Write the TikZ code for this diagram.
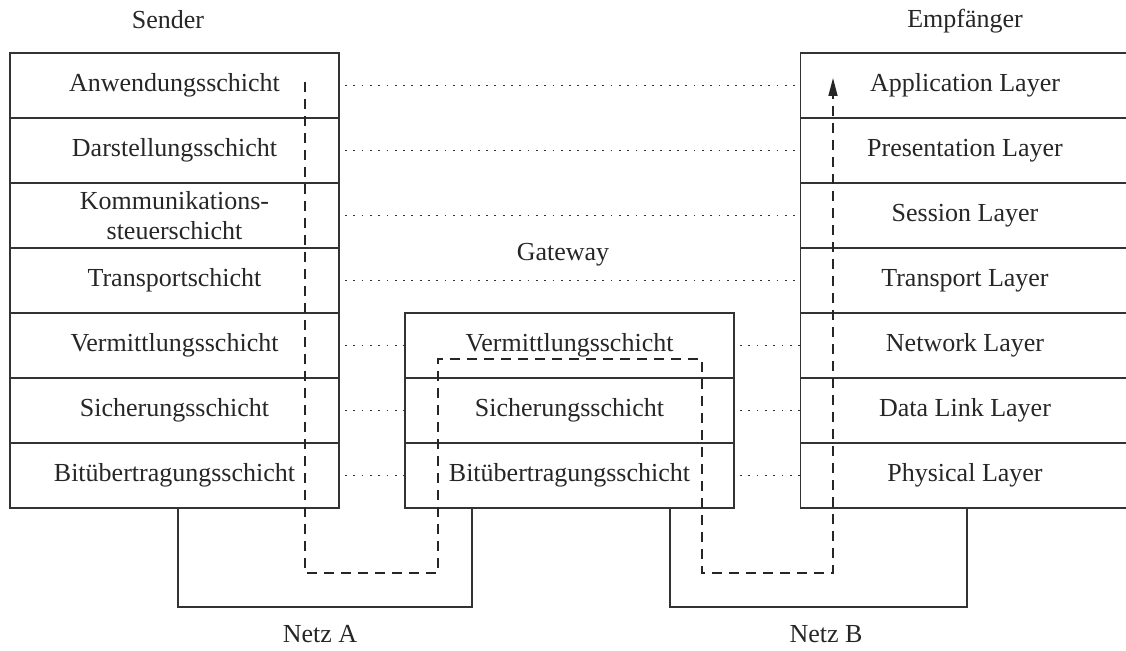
\documentclass[tikz,border=0pt]{standalone}
\usepackage{fontspec}
\setmainfont{Liberation Serif}
\usetikzlibrary{arrows.meta}
\begin{document}
\begin{tikzpicture}[x=0.5pt,y=-0.5pt,
  txt/.style={font=\fontsize{13}{15}\selectfont, text=black!85, inner sep=0pt},
  layer/.style={draw=black!80, line width=0.9pt, minimum width=164.5pt, minimum height=32.5pt,
    inner sep=0pt, outer sep=0pt, align=center, font=\fontsize{13}{15}\selectfont, text=black!85},
  peer/.style={draw=black!80, line width=0.9pt, dash pattern=on 0.9pt off 3.25pt, shorten <=3pt},
  net/.style={draw=black!80, line width=0.9pt},
  flow/.style={draw=black!85, line width=0.8pt, dash pattern=on 5pt off 3.5pt}]
\useasboundingbox (0,0) rectangle (1126,651);
\clip (0,0) rectangle (1126,651);
% sender stack
\node[layer] (L1) at (174.5,85.5) {Anwendungsschicht};
\node[layer] (L2) at (174.5,150.5) {Darstellungsschicht};
\node[layer] (L3) at (174.5,215.5) {Kommunikations-\\steuerschicht};
\node[layer] (L4) at (174.5,280.5) {Transportschicht};
\node[layer] (L5) at (174.5,345.5) {Vermittlungsschicht};
\node[layer] (L6) at (174.5,410.5) {Sicherungsschicht};
\node[layer] (L7) at (174.5,475.5) {Bitübertragungsschicht};
% gateway stack
\node[layer] (G1) at (569.5,345.5) {Vermittlungsschicht};
\node[layer] (G2) at (569.5,410.5) {Sicherungsschicht};
\node[layer] (G3) at (569.5,475.5) {Bitübertragungsschicht};
% receiver stack
\node[layer] (R1) at (965,85.5) {Application Layer};
\node[layer] (R2) at (965,150.5) {Presentation Layer};
\node[layer] (R3) at (965,215.5) {Session Layer};
\node[layer] (R4) at (965,280.5) {Transport Layer};
\node[layer] (R5) at (965,345.5) {Network Layer};
\node[layer] (R6) at (965,410.5) {Data Link Layer};
\node[layer] (R7) at (965,475.5) {Physical Layer};
% labels
\node[txt] (sender) at (168,20) {Sender};
\node[txt] (empf) at (965,21) {Empfänger};
\node[txt] (gw) at (563,255) {Gateway};
\node[txt] (netA) at (320,634) {Netz A};
\node[txt] (netB) at (826,634) {Netz B};
% peer relations
\draw[peer] (L1.east) -- (R1.west);
\draw[peer] (L2.east) -- (R2.west);
\draw[peer] (L3.east) -- (R3.west);
\draw[peer] (L4.east) -- (R4.west);
\draw[peer] (L5.east) -- (G1.west);
\draw[peer] (L6.east) -- (G2.west);
\draw[peer] (L7.east) -- (G3.west);
\draw[peer] (G1.east) -- (R5.west);
\draw[peer] (G2.east) -- (R6.west);
\draw[peer] (G3.east) -- (R7.west);
% networks
\coordinate (a1) at (178,508);
\coordinate (a2) at (178,607);
\coordinate (a3) at (472,607);
\coordinate (a4) at (472,508);
\coordinate (b1) at (670,508);
\coordinate (b2) at (670,607);
\coordinate (b3) at (967,607);
\coordinate (b4) at (967,508);
\draw[net] (a1) -- (a2) -- (a3) -- (a4);
\draw[net] (b1) -- (b2) -- (b3) -- (b4);
% data flow
\coordinate (f0) at (305,82);
\coordinate (f1) at (305,573);
\coordinate (f2) at (438,573);
\coordinate (f3) at (438,359);
\coordinate (f4) at (702,359);
\coordinate (f5) at (702,573);
\coordinate (f6) at (833,573);
\coordinate (f7) at (833,78);
\draw[flow, -{Triangle[length=9pt,width=4.5pt]}] (f0) -- (f1) -- (f2) -- (f3) -- (f4) -- (f5) -- (f6) -- (f7);
\end{tikzpicture}
\end{document}
